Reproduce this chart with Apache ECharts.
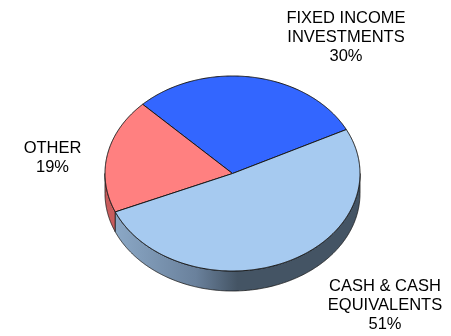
<!DOCTYPE html>
<html>
<head>
<meta charset="utf-8">
<style>html,body{margin:0;padding:0;background:#fff}#c{width:451px;height:336px}</style>
<script src="https://cdn.jsdelivr.net/npm/echarts@6/dist/echarts.min.js"></script>
</head>
<body>
<div id="c"></div>
<script>
const categories = ['FIXED INCOME\nINVESTMENTS', 'OTHER', 'CASH & CASH\nEQUIVALENTS'];
const values = [30, 19, 51];
const topColors = ['#3366ff', '#ff8080', '#a6caf0'];
const wallColors = ['#2a50c8', '#c85c5c', null];
const labelCenters = [[346, 37], [52.5, 158], [385, 305]];

const CX = 232.5, CY = 173.5, RX = 127.5, RY = 97.5, DEPTH = 20, START = 26.8;
const LINE = '#1a1a1a';
const total = values.reduce((a, b) => a + b, 0);

function sliceRange(i) {
  const before = values.slice(0, i).reduce((a, b) => a + b, 0);
  return [START + before / total * 360, START + (before + values[i]) / total * 360];
}
function ell(deg, dy) {
  const t = deg * Math.PI / 180;
  return [CX + RX * Math.cos(t), CY - RY * Math.sin(t) + (dy || 0)];
}
function arc(a, b, dy) {
  const pts = [], n = Math.max(2, Math.ceil(Math.abs(b - a) / 0.5));
  for (let k = 0; k <= n; k++) pts.push(ell(a + (b - a) * k / n, dy));
  return pts;
}
const cashWallFill = new echarts.graphic.LinearGradient(0, 0, 1, 0, [
  { offset: 0, color: '#8ba8c6' },
  { offset: 0.33, color: '#6a819c' },
  { offset: 0.5, color: '#445464' },
  { offset: 1, color: '#445464' }
]);

function renderWall(params) {
  const i = params.dataIndex;
  const r = sliceRange(i);
  const a = Math.max(r[0], 180), b = Math.min(r[1], 360);
  if (b <= a) return { type: 'group', children: [] };
  const pts = arc(a, b, 0).concat(arc(b, a, DEPTH));
  return {
    type: 'polygon',
    shape: { points: pts },
    style: { fill: wallColors[i] || cashWallFill, stroke: LINE, lineWidth: 0.8 }
  };
}
function renderTop(params) {
  const i = params.dataIndex;
  const r = sliceRange(i);
  const pts = [[CX, CY]].concat(arc(r[0], r[1], 0));
  const lc = labelCenters[i];
  return {
    type: 'group',
    children: [
      {
        type: 'polygon',
        shape: { points: pts },
        style: { fill: topColors[i], stroke: LINE, lineWidth: 1 }
      },
      {
        type: 'text',
        style: {
          x: lc[0], y: lc[1],
          text: categories[i] + '\n' + values[i] + '%',
          fill: '#000',
          font: '16.5px "Liberation Sans", Arial, sans-serif',
          lineHeight: 19,
          align: 'center',
          verticalAlign: 'middle'
        }
      }
    ]
  };
}
const chart = echarts.init(document.getElementById('c'), null, { renderer: 'canvas' });
chart.setOption({
  animation: false,
  backgroundColor: '#fff',
  tooltip: { show: false },
  series: [
    { type: 'custom', coordinateSystem: 'none', silent: true, data: values, renderItem: renderWall },
    { type: 'custom', coordinateSystem: 'none', silent: true, data: values, renderItem: renderTop }
  ]
});
</script>
</body>
</html>
